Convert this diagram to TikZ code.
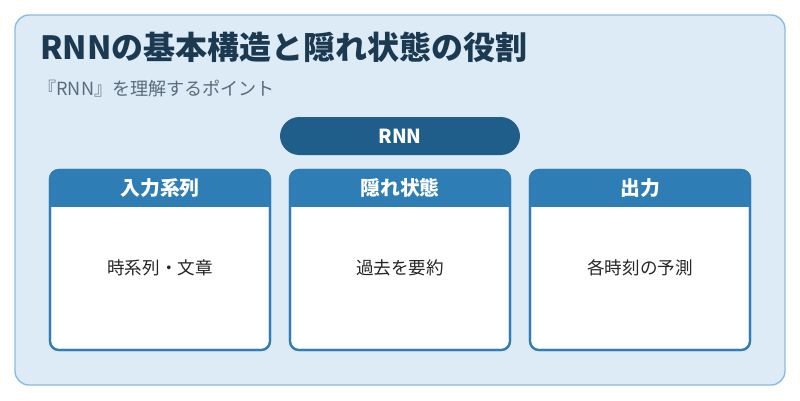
\documentclass[tikz,border=0pt]{standalone}
\usepackage{fontspec}
\setmainfont{Noto Sans CJK JP}
\usetikzlibrary{positioning}
\definecolor{bgblue}{HTML}{DDEBF6}
\definecolor{frameblue}{HTML}{8CBCDC}
\definecolor{titlecol}{HTML}{1B3A52}
\definecolor{subcol}{HTML}{5B6B7B}
\definecolor{pillcol}{HTML}{1F5E8A}
\definecolor{headcol}{HTML}{2E7DB5}
\tikzset{
  card/.style={draw=headcol, line width=1.2pt, fill=white, rounded corners=5pt},
  head/.style={font=\bfseries\fontsize{11.3}{13}\selectfont, text=white},
  body/.style={font=\fontsize{10}{12}\selectfont, text=black!85}
}
\begin{document}
\begin{tikzpicture}[x=0.02cm,y=-0.02cm]

	\useasboundingbox (0,0) rectangle (800,400);
	\draw[fill=bgblue, draw=frameblue, line width=0.8pt, rounded corners=8pt] (15,15) rectangle (785,385);
	\node[anchor=west, inner sep=0pt, font=\bfseries\fontsize{18.2}{21}\selectfont, text=titlecol] (Title) at (40,47) {RNNの基本構造と隠れ状態の役割};
	\node[anchor=west, inner sep=0pt, font=\fontsize{10.3}{12}\selectfont, text=subcol] (Sub) at (38,89) {『RNN』を理解するポイント};
	
	\node[fill=pillcol, rounded corners=11pt, minimum width=240*0.02cm, minimum height=38*0.02cm, text=white, font=\bfseries\fontsize{11}{13}\selectfont] (Rnn) at (400,136) {RNN};
	
	% cards
	\foreach \x/\h/\b/\n in {50/入力系列/時系列・文章/In, 290/隠れ状態/過去を要約/Hid, 530/出力/各時刻の予測/Out}{
		\draw[card] (\x,170) rectangle (\x+220,350);
		\begin{scope}
			\clip[rounded corners=5pt] (\x,170) rectangle (\x+220,350);
			\fill[headcol] (\x,170) rectangle (\x+220,207);
		\end{scope}
		\draw[headcol, line width=1.2pt, rounded corners=5pt] (\x,170) rectangle (\x+220,350);
		\node[head] (\n Head) at (\x+110,188) {\h};
		\node[body] (\n Body) at (\x+110,268) {\b};
	}
	
\end{tikzpicture}
\end{document}
